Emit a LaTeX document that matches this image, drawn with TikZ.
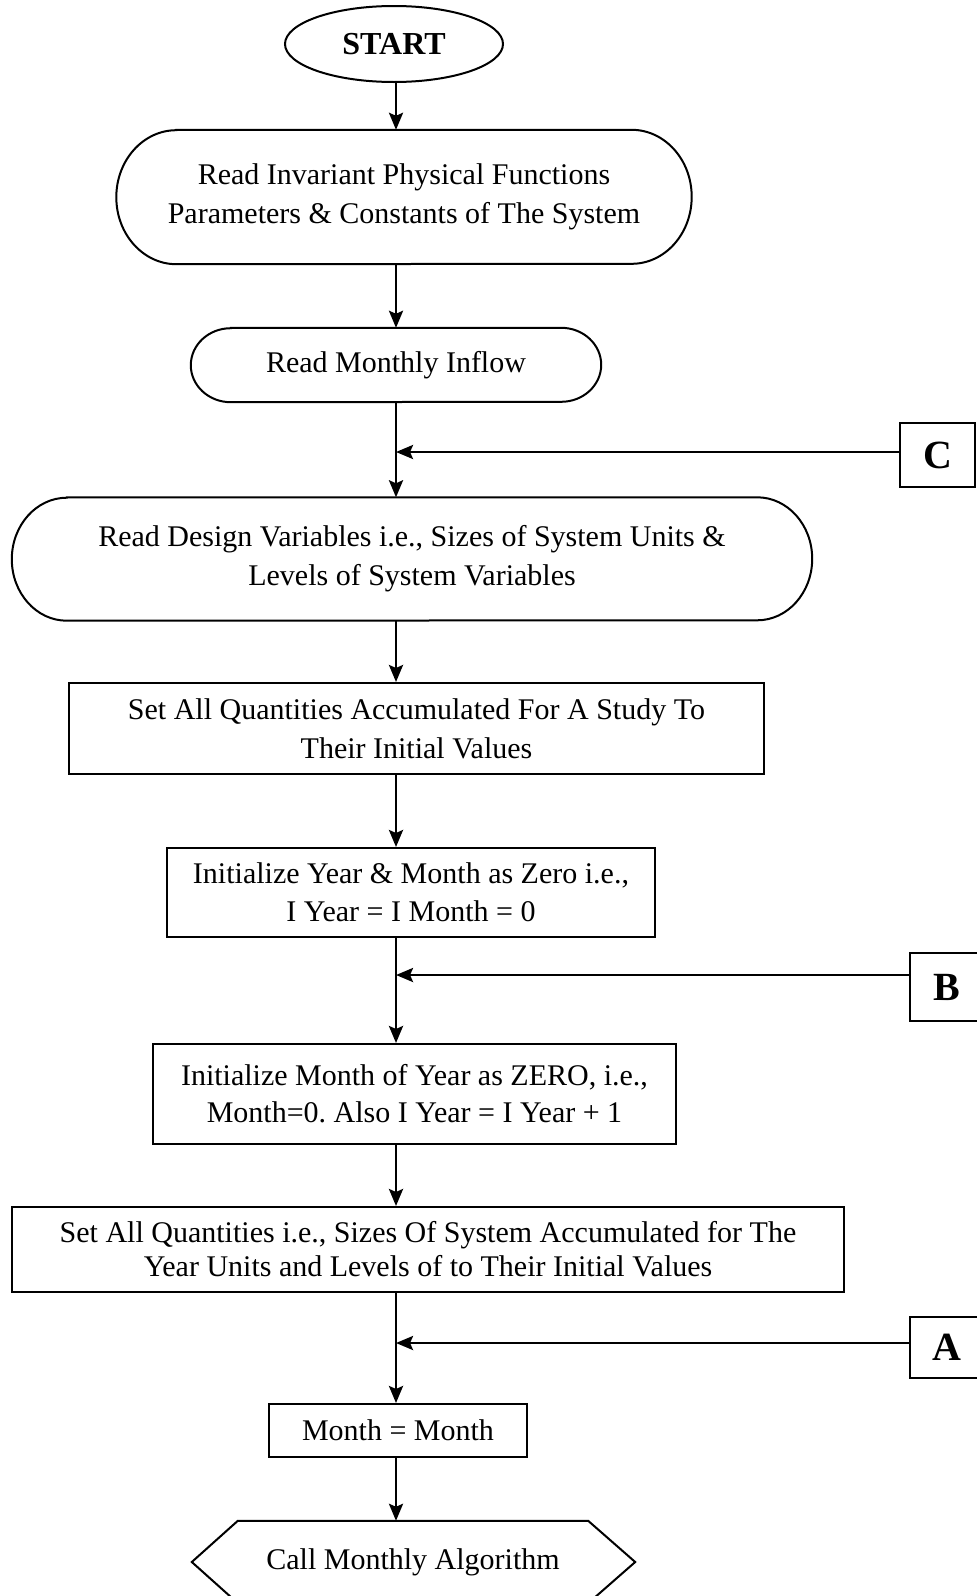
\documentclass[tikz,border=0pt]{standalone}
\usepackage{fontspec}
\setmainfont{Liberation Serif}
\usetikzlibrary{arrows.meta,shapes.geometric}
\tikzset{
  line/.style={line width=2pt},
  arr/.style={line width=2.7pt,-{Stealth[length=17pt,width=14pt,inset=3pt]}},
  txt/.style={font=\fontsize{30}{39}\selectfont,align=center,inner sep=0pt},
  boxed/.style={txt,draw,line width=2pt,rectangle},
  letter/.style={draw,line width=2pt,rectangle,inner sep=0pt,font=\fontsize{40}{40}\selectfont\bfseries},
}
\newcommand\stadiumpath[3]{\draw[line] ([xshift=#2]#1.north west) -- ([xshift=-#2]#1.north east)
  arc[start angle=90,end angle=-90,x radius=#2,y radius=#3] -- ([xshift=#2]#1.south west)
  arc[start angle=270,end angle=90,x radius=#2,y radius=#3] -- cycle;}
\begin{document}
\begin{tikzpicture}[x=1pt,y=-1pt]
\useasboundingbox (0,0) rectangle (977,1596);
\coordinate (T) at (396,0);
% nodes
\node[draw,line width=2pt,ellipse,inner sep=0pt,minimum width=218pt,minimum height=76pt,font=\fontsize{32}{32}\selectfont\bfseries] (start) at (394,44) {START};
\node[txt,minimum width=575pt,minimum height=134pt] (s1) at (404,197) {Read Invariant Physical Functions\\Parameters \& Constants of The System};
\node[txt,minimum width=410pt,minimum height=74pt] (s2) at (396,365) {Read Monthly Inflow};
\node[txt,minimum width=800pt,minimum height=123pt] (s3) at (412,559) {Read Design Variables i.e., Sizes of System Units \&\\Levels of System Variables};
\node[boxed,minimum width=695pt,minimum height=91pt] (r1) at (416.5,728.5) {Set All Quantities Accumulated For A Study To\\Their Initial Values};
\node[boxed,minimum width=488pt,minimum height=89pt,font=\fontsize{30}{38}\selectfont] (r2) at (411,892.5) {Initialize Year \& Month as Zero i.e.,\\I Year = I Month = 0};
\node[boxed,minimum width=523pt,minimum height=100pt,font=\fontsize{30}{37}\selectfont] (r3) at (414.5,1094) {Initialize Month of Year as ZERO, i.e.,\\Month=0.\ Also I Year = I Year + 1};
\node[boxed,minimum width=832pt,minimum height=85pt,font=\fontsize{30}{34}\selectfont] (r4) at (428,1249.5) {Set All Quantities i.e., Sizes Of System Accumulated for The\\Year Units and Levels of to Their Initial Values};
\node[boxed,minimum width=258pt,minimum height=53pt] (r5) at (398,1430.5) {Month = Month};
\node[txt,minimum width=350pt,minimum height=82pt] (hex) at (413,1562) {Call Monthly Algorithm};
\node[letter,minimum width=75pt,minimum height=64pt] (C) at (937.5,455) {C};
\node[letter,minimum width=75pt,minimum height=68pt] (B) at (947,987) {B};
\node[letter,minimum width=75pt,minimum height=61pt] (A) at (947,1347.5) {A};
% shapes
\stadiumpath{s1}{60pt}{67pt}
\stadiumpath{s2}{40pt}{37pt}
\stadiumpath{s3}{55pt}{61.5pt}
\draw[line] (hex.north west) -- (hex.north east) -- ([xshift=47pt]hex.east) -- (hex.south east) -- (hex.south west) -- ([xshift=-46pt]hex.west) -- cycle;
% junctions
\coordinate (jC) at (396,452);
\coordinate (jB) at (396,975);
\coordinate (jA) at (396,1343);
% connectors
\draw[arr] (start.south -| T) -- (s1.north -| T);
\draw[arr] (s1.south -| T) -- (s2.north -| T);
\draw[arr] (s2.south -| T) -- (s3.north -| T);
\draw[arr] (C.west |- jC) -- (jC);
\draw[arr] (s3.south -| T) -- (r1.north -| T);
\draw[arr] (r1.south -| T) -- (r2.north -| T);
\draw[arr] (r2.south -| T) -- (r3.north -| T);
\draw[arr] (B.west |- jB) -- (jB);
\draw[arr] (r3.south -| T) -- (r4.north -| T);
\draw[arr] (r4.south -| T) -- (r5.north -| T);
\draw[arr] (A.west |- jA) -- (jA);
\draw[arr] (r5.south -| T) -- (hex.north -| T);
\end{tikzpicture}
\end{document}
